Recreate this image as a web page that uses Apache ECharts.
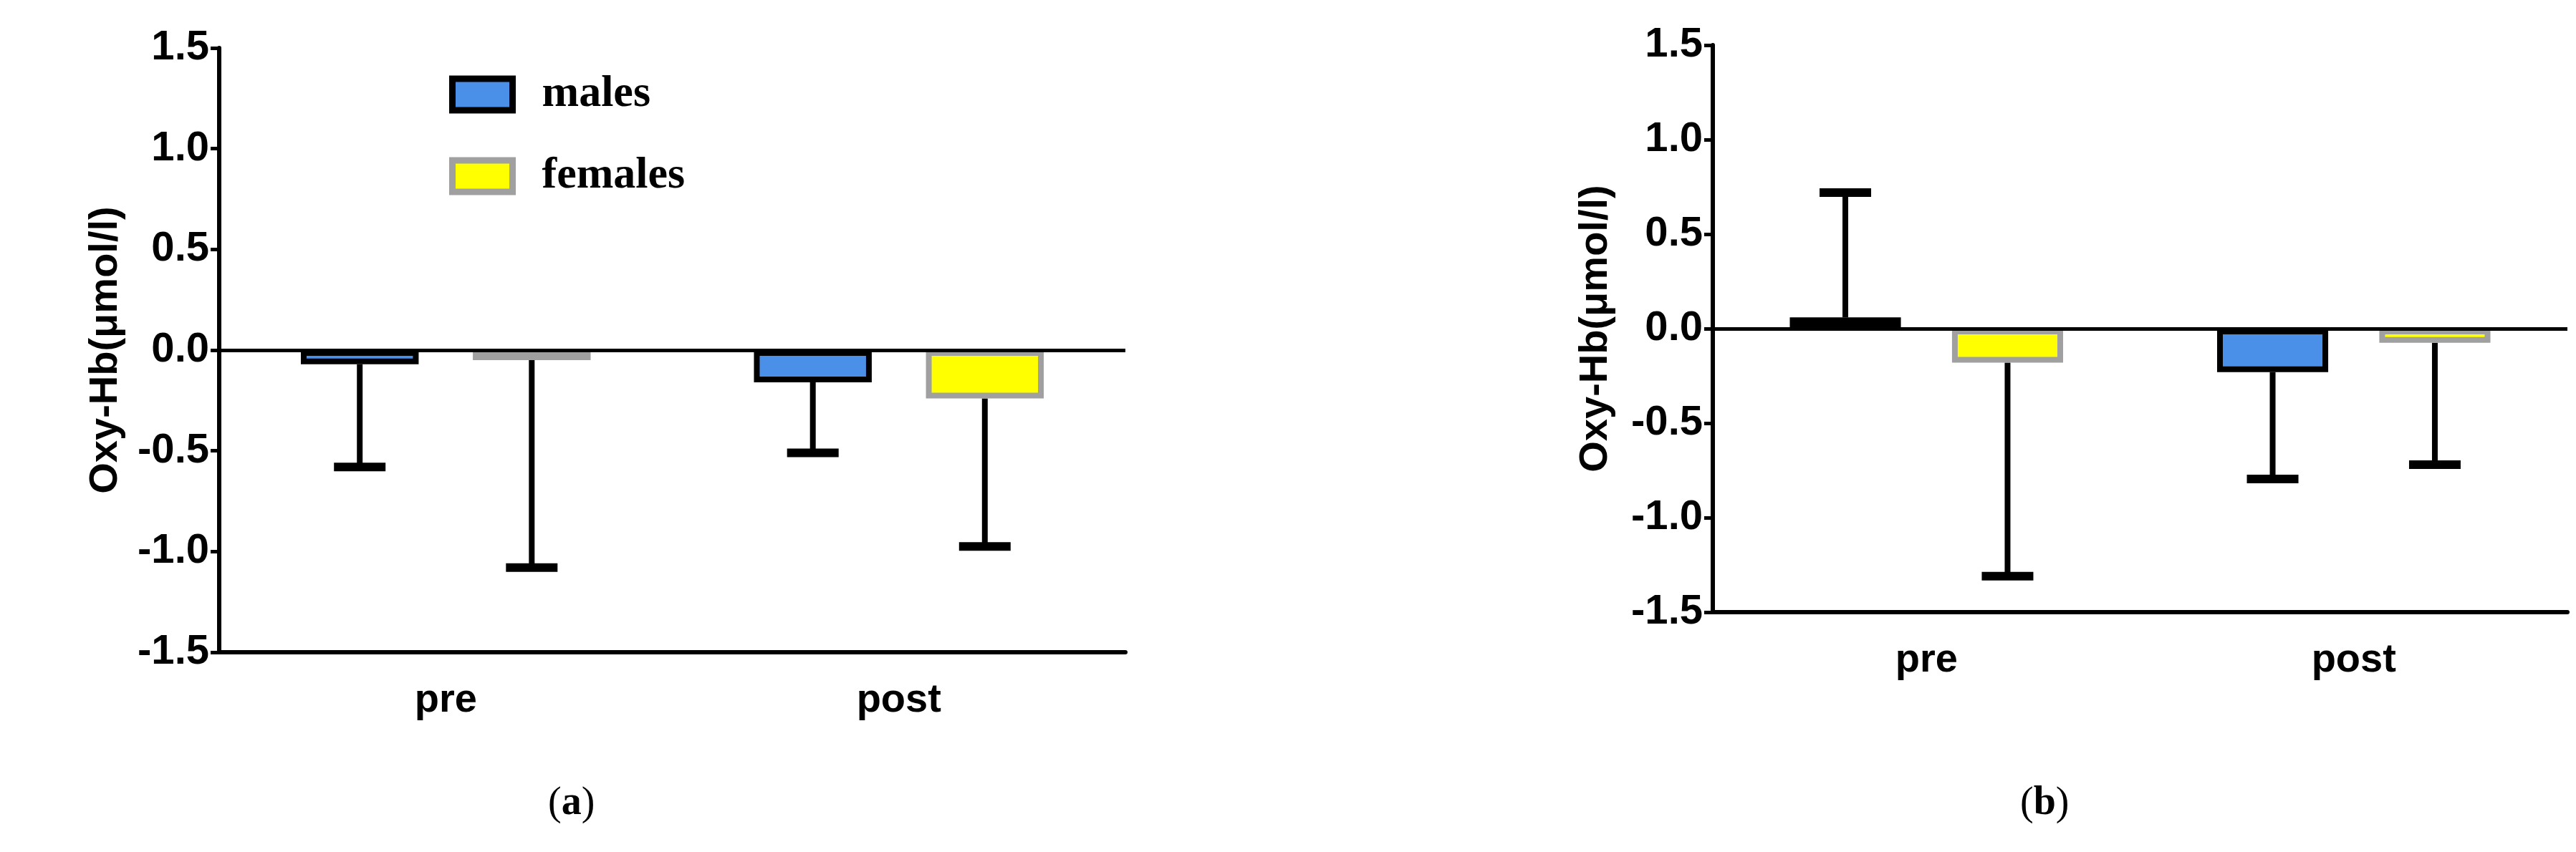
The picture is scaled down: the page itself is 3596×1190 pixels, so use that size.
<!DOCTYPE html>
<html>
<head>
<meta charset="utf-8"/>
<title>Oxy-Hb</title>
<script src="https://cdn.jsdelivr.net/npm/echarts@6/dist/echarts.min.js"></script>
<style>html,body{margin:0;background:#fff}#c{width:3596px;height:1190px}</style>
</head>
<body>
<div id="c"></div>
<script>
// data
var categories = ['pre', 'post'];
var yTicks = [-1.5, -1.0, -0.5, 0.0, 0.5, 1.0, 1.5];
var malesA = [-0.07, -0.16];
var femalesA = [-0.05, -0.24];
var malesErrA = [-0.58, -0.51];
var femalesErrA = [-1.08, -0.975];
var malesB = [0.06, -0.23];
var femalesB = [-0.18, -0.075];
var malesErrB = [0.72, -0.795];
var femalesErrB = [-1.31, -0.72];

var BW = 0.26, GAP = 0.46; // bar width & gap as fraction of category
var offs = [-(BW + BW * GAP) / 2, (BW + BW * GAP) / 2];

var myChart = echarts.init(document.getElementById('c'));

function yAxisOf(idx, name, nameGap) {
  return {
    gridIndex: idx, type: 'value', min: -1.5, max: 1.5, interval: 0.5,
    name: name, nameLocation: 'middle', nameGap: nameGap,
    nameTextStyle: {fontFamily: 'Liberation Sans', fontWeight: 'bold', fontSize: 56, color: '#000'},
    axisLine: {show: true, lineStyle: {color: '#000', width: 6}},
    axisTick: {show: true, length: 12, lineStyle: {color: '#000', width: 5}},
    axisLabel: {fontFamily: 'Liberation Sans Narrow, Liberation Sans', fontWeight: 'bold', fontSize: 58, color: '#000', margin: 14,
      formatter: function (v) { return v.toFixed(1); }},
    splitLine: {show: false}
  };
}
function xAxisOf(idx) {
  return {
    gridIndex: idx, type: 'category', data: categories, position: 'bottom',
    axisLine: {onZero: false, lineStyle: {color: '#000', width: 6}},
    axisTick: {alignWithLabel: true, length: 26, lineStyle: {color: '#000', width: 5}},
    axisLabel: {fontFamily: 'Liberation Sans', fontWeight: 'bold', fontSize: 56, color: '#000', margin: 40}
  };
}
function bar(name, idx, data, color, border, withZero) {
  var s = {
    name: name, type: 'bar', xAxisIndex: idx, yAxisIndex: idx, data: data,
    barWidth: (BW * 100) + '%', barGap: (GAP * 100) + '%',
    itemStyle: {color: color, borderColor: border, borderWidth: 8}
  };
  if (withZero) {
    s.markLine = {silent: true, symbol: 'none', label: {show: false},
      lineStyle: {color: '#000', width: 5, type: 'solid'}, data: [{yAxis: 0}]};
  }
  return s;
}
function errs(idx, which, vals, errVals) {
  var data = vals.map(function (v, i) { return [i, v, errVals[i]]; });
  return {
    type: 'custom', xAxisIndex: idx, yAxisIndex: idx, data: data, z: 1,
    renderItem: function (params, api) {
      var cw = api.size([1, 0])[0];
      var p0 = api.coord([api.value(0), api.value(1)]);
      var p1 = api.coord([api.value(0), api.value(2)]);
      var x = p0[0] + offs[which] * cw;
      var half = 36;
      var st = {stroke: '#000', lineWidth: 8};
      return {type: 'group', children: [
        {type: 'line', shape: {x1: x, y1: p0[1], x2: x, y2: p1[1]}, style: st},
        {type: 'line', shape: {x1: x - half, y1: p1[1], x2: x + half, y2: p1[1]}, style: {stroke: '#000', lineWidth: 12}}
      ]};
    }
  };
}

var option = {
  backgroundColor: '#fff',
  animation: false,
  grid: [
    {left: 306, top: 67, width: 1265, height: 844},
    {left: 2391, top: 63, width: 1193, height: 792}
  ],
  legend: {
    data: [
      {name: 'males', icon: 'rect', itemStyle: {color: '#4a90e8', borderColor: '#000', borderWidth: 9}},
      {name: 'females', icon: 'rect', itemStyle: {color: '#ffff00', borderColor: '#a0a0a0', borderWidth: 9}}
    ],
    orient: 'vertical', left: 622, top: 96,
    itemWidth: 84, itemHeight: 44, itemGap: 52,
    textStyle: {fontFamily: 'Liberation Serif', fontWeight: 'bold', fontSize: 62, color: '#000', padding: [0, 0, 0, 36]}
  },
  title: [
    {text: '({b|a})', left: 760, top: 1090, textStyle: {fontFamily: 'Liberation Serif', fontSize: 56, fontWeight: 'normal', color: '#000',
      rich: {b: {fontFamily: 'Liberation Serif', fontSize: 56, fontWeight: 'bold'}}}},
    {text: '({b|b})', left: 2815, top: 1090, textStyle: {fontFamily: 'Liberation Serif', fontSize: 56, fontWeight: 'normal', color: '#000',
      rich: {b: {fontFamily: 'Liberation Serif', fontSize: 56, fontWeight: 'bold'}}}}
  ],
  xAxis: [xAxisOf(0), xAxisOf(1)],
  yAxis: [yAxisOf(0, 'Oxy-Hb(μmol/l)', 130), yAxisOf(1, 'Oxy-Hb(μmol/l)', 135)],
  series: [
    errs(0, 0, malesA, malesErrA),
    errs(0, 1, femalesA, femalesErrA),
    errs(1, 0, malesB, malesErrB),
    errs(1, 1, femalesB, femalesErrB),
    bar('males', 0, malesA, '#4a90e8', '#000', true),
    bar('females', 0, femalesA, '#ffff00', '#a0a0a0', false),
    bar('males', 1, malesB, '#4a90e8', '#000', true),
    bar('females', 1, femalesB, '#ffff00', '#a0a0a0', false)
  ]
};
myChart.setOption(option);
</script>
</body>
</html>
